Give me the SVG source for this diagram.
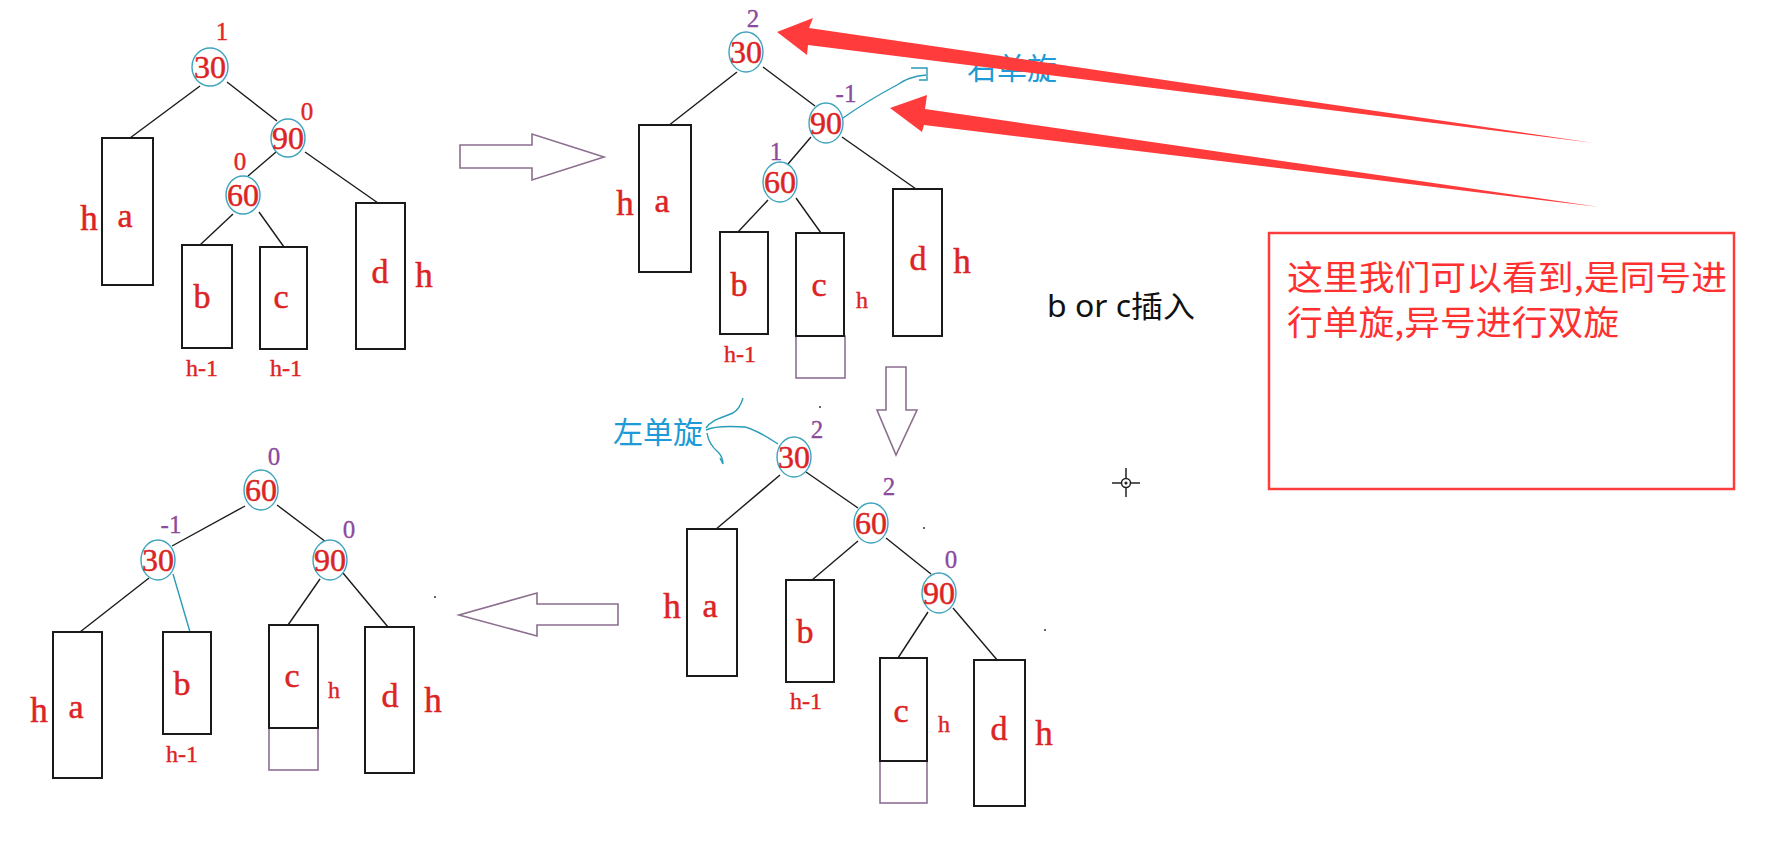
<svg xmlns="http://www.w3.org/2000/svg" width="1783" height="842" viewBox="0 0 1783 842">
<style>
.ln{stroke:#1a1a1a;stroke-width:1.4;fill:none}
.cy{stroke:#2a9bb8;stroke-width:1.4;fill:none}
.nd{fill:#fff;stroke:#3ea3bd;stroke-width:1.4}
.nt{font-family:"Liberation Serif",serif;font-size:32px;fill:#dc2424;stroke:#dc2424;stroke-width:0.5;text-anchor:middle}
.bx{fill:#fff;stroke:#1a1a1a;stroke-width:2}
.pb{fill:#fff;stroke:#8e6e94;stroke-width:1.6}
.lt{font-family:"Liberation Serif",serif;font-size:34px;fill:#dc2424;stroke:#dc2424;stroke-width:0.5;text-anchor:middle}
.hb{font-family:"Liberation Serif",serif;font-size:35px;fill:#dc2424;stroke:#dc2424;stroke-width:0.5;text-anchor:middle}
.hs{font-family:"Liberation Serif",serif;font-size:24px;fill:#dc2424;stroke:#dc2424;stroke-width:0.4;text-anchor:middle}
.br{font-family:"Liberation Serif",serif;font-size:25px;fill:#e02626;stroke:#e02626;stroke-width:0.4;text-anchor:middle}
.bp{font-family:"Liberation Serif",serif;font-size:25px;fill:#8b4a9c;stroke:#8b4a9c;stroke-width:0.3;text-anchor:middle}
.ha{fill:#fff;stroke:#8c6e8e;stroke-width:1.6}
.cyt{font-family:"Noto Sans CJK SC",sans-serif;font-size:30px;fill:#1e9ad6}
.ra{fill:#ff3b3b}
</style>

<!-- Tree 1 -->
<g id="tree1-edges">
<line class="ln" x1="200" y1="86" x2="130" y2="138"/>
<line class="ln" x1="227" y1="82" x2="277" y2="121"/>
<line class="ln" x1="276" y1="152" x2="248" y2="176"/>
<line class="ln" x1="305" y1="152" x2="378" y2="203"/>
<line class="ln" x1="233" y1="214" x2="200" y2="245"/>
<line class="ln" x1="259" y1="212" x2="284" y2="247"/>
</g>
<g id="t1-n30"><ellipse class="nd" cx="210" cy="67" rx="18" ry="19"/><text class="nt" x="210" y="78">30</text><text class="br" x="222" y="40">1</text></g>
<g id="t1-n90"><ellipse class="nd" cx="288" cy="138" rx="17" ry="19"/><text class="nt" x="288" y="149">90</text><text class="br" x="307" y="120">0</text></g>
<g id="t1-n60"><ellipse class="nd" cx="243" cy="195" rx="17" ry="19"/><text class="nt" x="243" y="206">60</text><text class="br" x="240" y="170">0</text></g>
<g id="t1-a"><rect class="bx" x="102" y="138" width="51" height="147"/><text class="lt" x="125" y="227">a</text><text class="hb" x="89" y="230">h</text></g>
<g id="t1-b"><rect class="bx" x="182" y="245" width="50" height="103"/><text class="lt" x="202" y="308">b</text><text class="hs" x="202" y="376">h-1</text></g>
<g id="t1-c"><rect class="bx" x="260" y="247" width="47" height="102"/><text class="lt" x="281" y="308">c</text><text class="hs" x="286" y="376">h-1</text></g>
<g id="t1-d"><rect class="bx" x="356" y="203" width="49" height="146"/><text class="lt" x="380" y="283">d</text><text class="hb" x="424" y="287">h</text></g>

<!-- hollow arrows -->
<g id="arrow-right"><polygon class="ha" points="460,145 532,145 532,134 604,157 532,180 532,168 460,168"/></g>
<g id="arrow-down"><polygon class="ha" points="886,367 906,367 906,410 917,410 896,455 877,410 886,410"/></g>
<g id="arrow-left"><polygon class="ha" points="618,604 537,604 537,593 459,615 537,636 537,625 618,625"/></g>

<!-- Tree 2 -->
<g id="tree2-edges">
<line class="ln" x1="737" y1="72" x2="668" y2="126"/>
<line class="ln" x1="763" y1="67" x2="815" y2="106"/>
<line class="ln" x1="811" y1="137" x2="788" y2="164"/>
<line class="ln" x1="842" y1="137" x2="916" y2="189"/>
<line class="ln" x1="768" y1="200" x2="738" y2="232"/>
<line class="ln" x1="796" y1="198" x2="821" y2="233"/>
<path class="cy" d="M843,118 C860,106 880,94 897,85 C905,80 912,76 926,75 M911,68 L927,68 L927,80 L919,80"/>
</g>
<g id="t2-n30"><ellipse class="nd" cx="746" cy="52" rx="17" ry="20"/><text class="nt" x="746" y="63">30</text><text class="bp" x="753" y="27">2</text></g>
<g id="t2-n90"><ellipse class="nd" cx="826" cy="123" rx="17" ry="20"/><text class="nt" x="826" y="134">90</text><text class="bp" x="846" y="102">-1</text></g>
<g id="t2-n60"><ellipse class="nd" cx="780" cy="182" rx="17" ry="20"/><text class="nt" x="780" y="193">60</text><text class="bp" x="776" y="160">1</text></g>
<g id="t2-a"><rect class="bx" x="639" y="125" width="52" height="147"/><text class="lt" x="662" y="212">a</text><text class="hb" x="625" y="215">h</text></g>
<g id="t2-b"><rect class="bx" x="720" y="232" width="48" height="102"/><text class="lt" x="739" y="296">b</text><text class="hs" x="740" y="362">h-1</text></g>
<g id="t2-c"><rect class="pb" x="796" y="336" width="49" height="42"/><rect class="bx" x="796" y="233" width="48" height="103"/><text class="lt" x="819" y="296">c</text><text class="hs" x="862" y="308">h</text></g>
<g id="t2-d"><rect class="bx" x="893" y="189" width="49" height="147"/><text class="lt" x="918" y="270">d</text><text class="hb" x="962" y="273">h</text></g>
<text id="label-right-rotate" class="cyt" x="967" y="79">右单旋</text>

<!-- Tree 3 -->
<g id="tree3-edges">
<line class="ln" x1="780" y1="475" x2="715" y2="530"/>
<line class="ln" x1="806" y1="472" x2="858" y2="508"/>
<line class="ln" x1="858" y1="541" x2="812" y2="580"/>
<line class="ln" x1="886" y1="538" x2="931" y2="574"/>
<line class="ln" x1="928" y1="612" x2="898" y2="658"/>
<line class="ln" x1="953" y1="608" x2="998" y2="661"/>
<path class="cy" d="M743,398 C741,405 738,410 733,413 C722,418 712,419 706,428 M706,430 C712,427 728,426 745,427 C756,430 766,436 778,444 M707,433 C708,440 712,447 718,452 C721,455 723,459 723,464 L720,458"/>
</g>
<g id="t3-n30"><ellipse class="nd" cx="794" cy="457" rx="17" ry="20"/><text class="nt" x="794" y="468">30</text><text class="bp" x="817" y="438">2</text></g>
<g id="t3-n60"><ellipse class="nd" cx="871" cy="523" rx="17" ry="20"/><text class="nt" x="871" y="534">60</text><text class="bp" x="889" y="495">2</text></g>
<g id="t3-n90"><ellipse class="nd" cx="939" cy="593" rx="17" ry="20"/><text class="nt" x="939" y="604">90</text><text class="bp" x="951" y="568">0</text></g>
<g id="t3-a"><rect class="bx" x="687" y="529" width="50" height="147"/><text class="lt" x="710" y="617">a</text><text class="hb" x="672" y="618">h</text></g>
<g id="t3-b"><rect class="bx" x="786" y="580" width="48" height="102"/><text class="lt" x="805" y="643">b</text><text class="hs" x="806" y="709">h-1</text></g>
<g id="t3-c"><rect class="pb" x="880" y="761" width="47" height="42"/><rect class="bx" x="880" y="658" width="47" height="103"/><text class="lt" x="901" y="722">c</text><text class="hs" x="944" y="732">h</text></g>
<g id="t3-d"><rect class="bx" x="974" y="660" width="51" height="146"/><text class="lt" x="999" y="740">d</text><text class="hb" x="1044" y="745">h</text></g>
<text id="label-left-rotate" class="cyt" x="613" y="443">左单旋</text>

<!-- Tree 4 -->
<g id="tree4-edges">
<line class="ln" x1="245" y1="506" x2="172" y2="546"/>
<line class="ln" x1="277" y1="505" x2="326" y2="542"/>
<line class="ln" x1="149" y1="578" x2="80" y2="632"/>
<line class="cy" x1="173" y1="574" x2="190" y2="632"/>
<line class="ln" x1="320" y1="579" x2="288" y2="625"/>
<line class="ln" x1="343" y1="573" x2="388" y2="627"/>
</g>
<g id="t4-n60"><ellipse class="nd" cx="261" cy="490" rx="17" ry="20"/><text class="nt" x="261" y="501">60</text><text class="bp" x="274" y="465">0</text></g>
<g id="t4-n30"><ellipse class="nd" cx="158" cy="560" rx="17" ry="20"/><text class="nt" x="158" y="571">30</text><text class="bp" x="171" y="533">-1</text></g>
<g id="t4-n90"><ellipse class="nd" cx="330" cy="560" rx="17" ry="20"/><text class="nt" x="330" y="571">90</text><text class="bp" x="349" y="538">0</text></g>
<g id="t4-a"><rect class="bx" x="53" y="632" width="49" height="146"/><text class="lt" x="76" y="718">a</text><text class="hb" x="39" y="722">h</text></g>
<g id="t4-b"><rect class="bx" x="163" y="632" width="48" height="102"/><text class="lt" x="182" y="695">b</text><text class="hs" x="182" y="762">h-1</text></g>
<g id="t4-c"><rect class="pb" x="269" y="728" width="49" height="42"/><rect class="bx" x="269" y="625" width="49" height="103"/><text class="lt" x="292" y="687">c</text><text class="hs" x="334" y="698">h</text></g>
<g id="t4-d"><rect class="bx" x="365" y="627" width="49" height="146"/><text class="lt" x="390" y="707">d</text><text class="hb" x="433" y="712">h</text></g>

<!-- red pointer arrows -->
<g id="red-arrows">
<polygon class="ra" points="777,32 813,18 809,28 1594,143 808,45 807,55"/>
<polygon class="ra" points="890,108 927,95 925,109 1599,207 924,125 922,132"/>
</g>

<!-- note box -->
<g id="note">
<rect x="1269" y="233" width="465" height="256" fill="#fff" stroke="#ff3c3c" stroke-width="2.5"/>
<text x="1287" y="290" font-family="Noto Sans CJK SC, sans-serif" font-size="34" fill="#ff3030" textLength="440" lengthAdjust="spacingAndGlyphs">这里我们可以看到,是同号进</text>
<text x="1287" y="335" font-family="Noto Sans CJK SC, sans-serif" font-size="34" fill="#ff3030" textLength="332" lengthAdjust="spacingAndGlyphs">行单旋,异号进行双旋</text>
</g>
<text id="label-insert" x="1047" y="317" font-family="Noto Sans, Noto Sans CJK SC, sans-serif" font-size="30" fill="#111" textLength="148" lengthAdjust="spacingAndGlyphs">b or c插入</text>

<!-- cursor and stray marks -->
<g id="cursor" stroke="#222" stroke-width="1.5" fill="none">
<line x1="1126" y1="468" x2="1126" y2="478"/><line x1="1126" y1="488" x2="1126" y2="497"/>
<line x1="1112" y1="483" x2="1121" y2="483"/><line x1="1131" y1="483" x2="1140" y2="483"/>
<circle cx="1126" cy="483" r="4.5"/><circle cx="1126" cy="483" r="0.8" fill="#222"/>
</g>
<g fill="#333">
<circle cx="820" cy="407" r="1"/><circle cx="924" cy="528" r="1"/><circle cx="1045" cy="630" r="1"/><circle cx="435" cy="597" r="1"/>
</g>
</svg>
